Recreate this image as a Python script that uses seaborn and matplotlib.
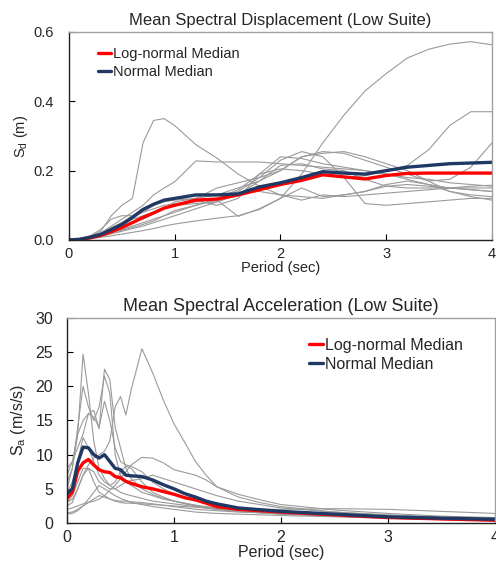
import numpy as np
import pandas as pd
import seaborn as sns
import matplotlib
matplotlib.use("Agg")
import matplotlib.pyplot as plt

# periods (sec)
T_d = [0, 0.1, 0.2, 0.3, 0.4, 0.5, 0.6, 0.7, 0.8, 0.9, 1.0, 1.2, 1.4, 1.6, 1.8,
       2.0, 2.2, 2.4, 2.6, 2.8, 3.0, 3.2, 3.4, 3.6, 3.8, 4.0]
T_a = [0, 0.05, 0.1, 0.15, 0.2, 0.25, 0.3, 0.35, 0.4, 0.45, 0.5, 0.55, 0.6, 0.7,
       0.8, 0.9, 1.0, 1.1, 1.2, 1.3, 1.4, 1.6, 1.8, 2.0, 2.5, 3.0, 3.5, 4.0]

# spectral displacement (m), individual records
sd_records = [
    [0, 0.001, 0.004, 0.008, 0.012, 0.017, 0.022, 0.027, 0.033, 0.04, 0.046, 0.055, 0.063, 0.07, 0.088, 0.12, 0.19, 0.28, 0.36, 0.43, 0.48, 0.525, 0.55, 0.565, 0.572, 0.563],
    [0, 0.002, 0.01, 0.025, 0.07, 0.1, 0.12, 0.28, 0.345, 0.35, 0.33, 0.275, 0.236, 0.19, 0.155, 0.13, 0.125, 0.12, 0.13, 0.14, 0.155, 0.16, 0.155, 0.15, 0.145, 0.14],
    [0, 0.002, 0.008, 0.02, 0.04, 0.06, 0.08, 0.1, 0.13, 0.15, 0.168, 0.228, 0.225, 0.225, 0.225, 0.22, 0.215, 0.21, 0.205, 0.2, 0.19, 0.18, 0.175, 0.165, 0.16, 0.155],
    [0, 0.001, 0.005, 0.012, 0.02, 0.03, 0.04, 0.05, 0.06, 0.07, 0.08, 0.1, 0.12, 0.145, 0.19, 0.205, 0.2, 0.19, 0.18, 0.185, 0.2, 0.215, 0.26, 0.33, 0.37, 0.37],
    [0, 0.001, 0.006, 0.015, 0.03, 0.045, 0.06, 0.07, 0.08, 0.09, 0.1, 0.105, 0.11, 0.13, 0.17, 0.2, 0.24, 0.255, 0.25, 0.23, 0.21, 0.19, 0.17, 0.175, 0.21, 0.28],
    [0, 0.002, 0.008, 0.02, 0.035, 0.05, 0.065, 0.08, 0.09, 0.1, 0.105, 0.11, 0.12, 0.14, 0.18, 0.23, 0.255, 0.24, 0.18, 0.105, 0.1, 0.105, 0.11, 0.115, 0.12, 0.12],
    [0, 0.003, 0.012, 0.03, 0.06, 0.07, 0.07, 0.08, 0.1, 0.115, 0.12, 0.115, 0.1, 0.12, 0.19, 0.24, 0.235, 0.22, 0.21, 0.2, 0.19, 0.175, 0.16, 0.15, 0.145, 0.14],
    [0, 0.001, 0.005, 0.012, 0.02, 0.028, 0.036, 0.045, 0.055, 0.07, 0.085, 0.1, 0.115, 0.068, 0.09, 0.12, 0.15, 0.125, 0.13, 0.14, 0.16, 0.17, 0.16, 0.14, 0.125, 0.115],
    [0, 0.002, 0.007, 0.016, 0.03, 0.04, 0.05, 0.06, 0.075, 0.09, 0.11, 0.12, 0.13, 0.15, 0.17, 0.215, 0.22, 0.205, 0.2, 0.175, 0.155, 0.15, 0.15, 0.15, 0.15, 0.15],
    [0, 0.001, 0.004, 0.01, 0.018, 0.025, 0.033, 0.04, 0.05, 0.06, 0.07, 0.09, 0.11, 0.135, 0.14, 0.13, 0.115, 0.13, 0.125, 0.13, 0.135, 0.14, 0.145, 0.15, 0.155, 0.158],
    [0, 0.002, 0.008, 0.02, 0.035, 0.05, 0.07, 0.09, 0.1, 0.11, 0.115, 0.12, 0.15, 0.165, 0.18, 0.2, 0.24, 0.25, 0.255, 0.24, 0.22, 0.2, 0.17, 0.14, 0.13, 0.125],
]
sd_normal = [0, 0.002, 0.008, 0.016, 0.03, 0.045, 0.065, 0.088, 0.103, 0.115, 0.12, 0.13, 0.13, 0.133, 0.153, 0.165, 0.18, 0.197, 0.193, 0.19, 0.2, 0.21, 0.215, 0.22, 0.222, 0.224]
sd_lognormal = [0, 0.001, 0.006, 0.013, 0.024, 0.036, 0.05, 0.065, 0.078, 0.092, 0.1, 0.115, 0.118, 0.13, 0.145, 0.16, 0.172, 0.188, 0.182, 0.176, 0.186, 0.192, 0.193, 0.193, 0.193, 0.193]

# spectral acceleration (m/s/s), individual records
sa_records = [
    [3.0, 3.5, 5, 7, 8.5, 9.5, 10, 10.5, 12, 17, 18.5, 15.8, 19.5, 25.5, 22, 18, 14.5, 11.8, 9, 7, 5.3, 3.8, 3.0, 2.4, 1.6, 1.1, 0.8, 0.6],
    [6, 8, 13, 24.7, 19, 12, 8, 6.5, 5.5, 5, 4.5, 4.2, 4.0, 3.6, 3.2, 3.0, 2.8, 2.6, 2.4, 2.2, 2.0, 1.7, 1.5, 1.3, 1.0, 0.7, 0.5, 0.4],
    [7, 9, 13, 15, 16, 16.5, 13.8, 22.5, 21, 14, 11, 8, 6.5, 5, 4.2, 3.6, 3.2, 2.9, 2.6, 2.3, 2.1, 1.8, 1.6, 1.4, 1.1, 0.8, 0.6, 0.5],
    [5, 8, 14, 20, 17, 15, 17, 21.5, 19, 10, 7, 6, 5.5, 4.5, 4.0, 3.5, 3.2, 2.9, 2.6, 2.4, 2.2, 1.9, 1.7, 1.5, 1.2, 0.9, 0.7, 0.5],
    [8, 9, 11, 13, 16, 15.5, 14, 17.8, 15, 11, 9, 8.5, 8.3, 7.5, 6, 5, 4.2, 3.6, 3.2, 2.8, 2.5, 2.1, 1.8, 1.6, 1.3, 1.0, 0.8, 0.6],
    [2.0, 2.2, 2.5, 2.8, 3.0, 3.2, 3.5, 4.0, 4.8, 5.5, 6.5, 7.5, 8.5, 9.6, 9.5, 8.8, 7.8, 7.4, 7.0, 6.3, 5.3, 4.2, 3.4, 2.7, 1.9, 1.4, 1.0, 0.8],
    [3, 4, 6, 8, 8, 7.5, 6, 5.5, 5, 5, 5.5, 6, 6.2, 6.5, 7.0, 6.5, 6.0, 5.5, 5.0, 4.5, 4.0, 3.2, 2.7, 2.2, 1.6, 1.2, 0.9, 0.7],
    [1.5, 1.6, 2.0, 2.5, 3.0, 3.5, 4.0, 3.8, 3.5, 3.3, 3.2, 3.2, 3.1, 3.0, 2.8, 2.6, 2.4, 2.2, 2.0, 1.9, 1.8, 1.6, 1.5, 1.4, 1.2, 0.9, 0.7, 0.5],
    [2.5, 3.0, 5.0, 7.0, 8.0, 6.0, 4.5, 4.0, 3.5, 3.2, 3.0, 2.9, 2.9, 2.8, 2.7, 2.6, 2.5, 2.4, 2.3, 2.2, 2.1, 2.0, 2.0, 2.0, 2.1, 2.0, 1.7, 1.4],
    [4.5, 6, 9, 12.5, 11, 9, 7, 6, 5.5, 6, 7.5, 8.3, 8, 6, 4.5, 3.8, 3.2, 2.8, 2.5, 2.2, 2.0, 1.7, 1.5, 1.3, 1.0, 0.7, 0.5, 0.4],
    [1.3, 1.4, 1.8, 2.5, 3.5, 4.5, 5.5, 5.0, 4.5, 4.0, 3.6, 3.3, 3.0, 2.7, 2.4, 2.2, 2.0, 1.8, 1.6, 1.5, 1.4, 1.3, 1.2, 1.1, 0.9, 0.7, 0.5, 0.4],
]
sa_normal = [4.3, 5.0, 8.8, 11.1, 11.0, 10.0, 9.5, 10.0, 9.0, 8.0, 7.8, 7.0, 6.9, 6.8, 6.3, 5.6, 5.0, 4.3, 3.8, 3.2, 2.8, 2.2, 1.95, 1.7, 1.3, 0.9, 0.7, 0.55]
sa_lognormal = [3.6, 4.5, 7.6, 8.8, 9.3, 8.5, 7.8, 7.5, 7.4, 6.8, 6.6, 6.1, 5.8, 5.3, 5.0, 4.6, 4.2, 3.7, 3.4, 2.9, 2.4, 2.0, 1.8, 1.6, 1.2, 0.8, 0.6, 0.4]

sns.set_theme(style="white")
plt.rcParams["font.family"] = ["Liberation Sans", "DejaVu Sans"]
plt.rcParams["mathtext.default"] = "regular"

GREY = "#9a9a9a"
RED = "#ff0000"
NAVY = "#1f3864"

fig = plt.figure(figsize=(4.96, 5.62), dpi=100)
ax1 = fig.add_axes([0.1391, 0.5730, 0.8528, 0.3701])
ax2 = fig.add_axes([0.1351, 0.0694, 0.8629, 0.3648])


def draw_panel(ax, T, records, lognormal, normal):
    for rec in records:
        sns.lineplot(x=T, y=rec, ax=ax, color=GREY, lw=0.8, legend=False)
    sns.lineplot(x=T, y=lognormal, ax=ax, color=RED, lw=2.4, label="Log-normal Median")
    sns.lineplot(x=T, y=normal, ax=ax, color=NAVY, lw=2.4, label="Normal Median")
    ax.set_xlim(0, 4)
    ax.set_xticks([0, 1, 2, 3, 4])
    for side in ["top", "right"]:
        ax.spines[side].set_color("#a0a0a0")
    for side in ["left", "bottom"]:
        ax.spines[side].set_color("#202020")
    for sp in ax.spines.values():
        sp.set_linewidth(1.0)
    ax.tick_params(axis="both", direction="in", length=4, width=0.8, color="black",
                   bottom=True, left=True, top=False, right=False)


draw_panel(ax1, T_d, sd_records, sd_lognormal, sd_normal)
ax1.set_ylim(0, 0.6)
ax1.set_yticks([0, 0.2, 0.4, 0.6])
ax1.set_yticklabels(["0.0", "0.2", "0.4", "0.6"])
ax1.tick_params(axis="both", labelsize=10.5)
ax1.tick_params(axis="y", pad=11)
ax1.tick_params(axis="x", pad=5)
ax1.set_title("Mean Spectral Displacement (Low Suite)", fontsize=12, pad=5)
ax1.set_xlabel("Period (sec)", fontsize=10.5, labelpad=0)
ax1.set_ylabel("S$_d$ (m)", fontsize=10.5, labelpad=2)
ax1.legend(loc="upper left", bbox_to_anchor=(0.055, 0.955), frameon=False, fontsize=10.5,
           handlelength=0.9, handletextpad=0.1, labelspacing=0.25, borderaxespad=0)

draw_panel(ax2, T_a, sa_records, sa_lognormal, sa_normal)
ax2.set_ylim(0, 30)
ax2.set_yticks([0, 5, 10, 15, 20, 25, 30])
ax2.tick_params(axis="both", labelsize=11.5)
ax2.tick_params(axis="y", pad=10)
ax2.tick_params(axis="x", pad=5)
ax2.set_title("Mean Spectral Acceleration (Low Suite)", fontsize=13, pad=5)
ax2.set_xlabel("Period (sec)", fontsize=11.5, labelpad=0)
ax2.set_ylabel("S$_a$ (m/s/s)", fontsize=11.5, labelpad=5)
ax2.legend(loc="upper left", bbox_to_anchor=(0.55, 0.935), frameon=False, fontsize=11.5,
           handlelength=0.9, handletextpad=0.1, labelspacing=0.25, borderaxespad=0)

fig.savefig("out.png", dpi=100)
